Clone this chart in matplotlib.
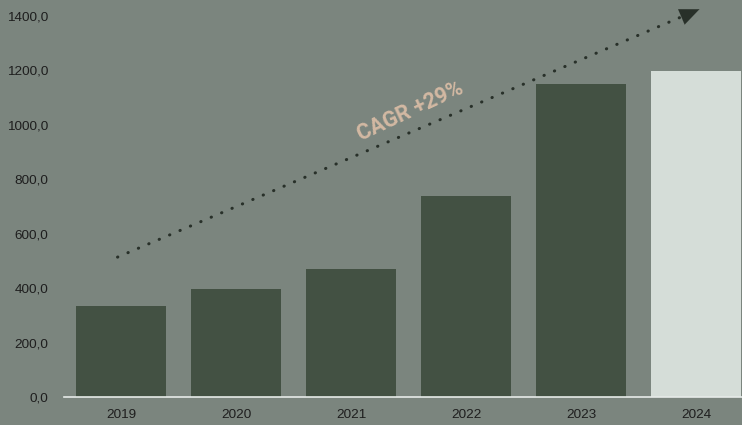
import matplotlib.pyplot as plt
import numpy as np

# === Data ===
years = ['2019', '2020', '2021', '2022', '2023', '2024']
values = [334, 397, 470, 739, 1150, 1198]
y_ticks = [0, 200, 400, 600, 800, 1000, 1200, 1400]
cagr_label = 'CAGR +29%'

# === Colors ===
bg = '#7b857e'
bar_dark = '#435143'
bar_light = '#d5ddd8'
colors = [bar_dark] * 5 + [bar_light]

plt.rcParams['font.family'] = ['Liberation Sans', 'DejaVu Sans']

fig = plt.figure(figsize=(7.42, 4.25), dpi=100, facecolor=bg)
# axes runs past the right edge, like the reference
ax = fig.add_axes([63.5 / 742, 28 / 425, 690 / 742, 381 / 425])
ax.set_facecolor(bg)

x = np.arange(len(years))
ax.bar(x, values, width=0.78, color=colors, zorder=2)

ax.set_xlim(-0.5, len(years) - 0.5)
ax.set_ylim(0, 1400)
ax.set_yticks(y_ticks)
ax.set_yticklabels([f'{v:.1f}'.replace('.', ',') for v in y_ticks])
ax.set_xticks(x)
ax.set_xticklabels(years)
ax.tick_params(axis='both', length=0, labelsize=9.7, colors='#1e1e1e')
ax.tick_params(axis='y', pad=11)
ax.tick_params(axis='x', pad=9)

for side in ['top', 'right', 'left']:
    ax.spines[side].set_visible(False)
ax.spines['bottom'].set_color('#e6ebe8')
ax.spines['bottom'].set_linewidth(1.2)
ax.spines['bottom'].set_zorder(3)

# Growth arrow (dotted line + filled head)
ax.annotate('', xy=(5.03, 1425), xytext=(-0.03, 514),
            arrowprops=dict(arrowstyle='-', linestyle=(0, (0.1, 3.6)),
                            linewidth=2.2, capstyle='round',
                            color='#283029', shrinkA=0, shrinkB=0),
            annotation_clip=False, zorder=4)
ax.annotate('', xy=(5.03, 1425), xytext=(4.88, 1398),
            arrowprops=dict(arrowstyle='-|>,head_length=1.4,head_width=0.6',
                            linewidth=0.1, color='#283029',
                            shrinkA=0, shrinkB=0),
            annotation_clip=False, zorder=4)

ax.text(2.52, 1048, cagr_label, rotation=25, ha='center', va='center',
        fontsize=15.5, fontweight='bold', color='#d3b9a3',
        family=['Roboto', 'DejaVu Sans'])

plt.savefig('out.png', dpi=100, facecolor=bg)
